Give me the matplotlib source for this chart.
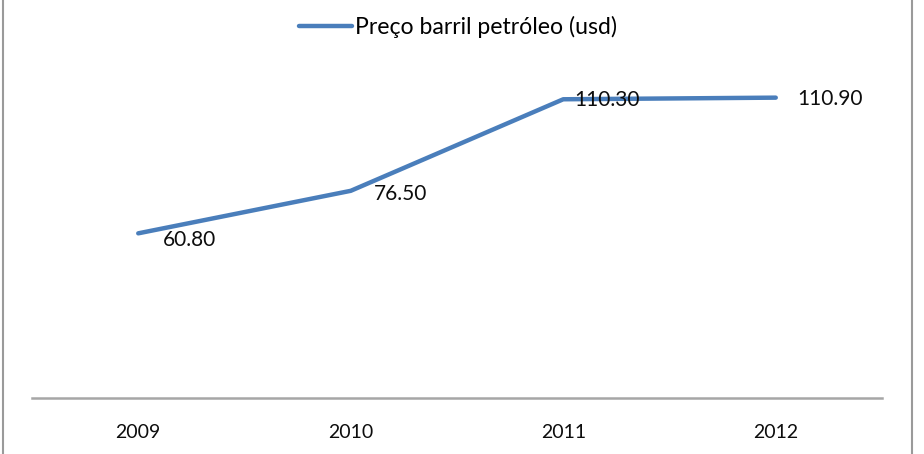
import matplotlib.pyplot as plt
from matplotlib.lines import Line2D

years = ['2009', '2010', '2011', '2012']
prices = [60.80, 76.50, 110.30, 110.90]
series_name = 'Preço barril petróleo (usd)'

plt.rcParams['font.family'] = ['Lato', 'DejaVu Sans']

W, H = 924, 454
fig = plt.figure(figsize=(W / 100, H / 100), dpi=100)

# plot area in pixel coords: x 32..882, y (from top) 73..398
left, right, top, bottom = 32, 882, 73, 398
ax = fig.add_axes([left / W, 1 - bottom / H, (right - left) / W, (bottom - top) / H])

line_color = '#4A7EBB'
x = range(len(years))
ax.plot(x, prices, color=line_color, linewidth=3.2, solid_capstyle='round',
        solid_joinstyle='round', zorder=3)

offsets = [(51, -7), (50, -3), (44, -1), (54, -1)]
for i, (v, off) in enumerate(zip(prices, offsets)):
    ax.annotate(f'{v:.2f}', (i, v), xytext=off, textcoords='offset pixels',
                ha='center', va='center', fontsize=15, color='#0d0d0d', zorder=4)

ax.set_xlim(-0.5, len(years) - 0.5)
ax.set_ylim(0, 120)
ax.set_xticks(list(x))
ax.set_xticklabels(years, fontsize=14, color='#0d0d0d')
ax.tick_params(axis='x', length=0, pad=19)
ax.set_yticks([])
for s in ['top', 'left', 'right']:
    ax.spines[s].set_visible(False)
ax.spines['bottom'].set_color('#a6a6a6')
ax.spines['bottom'].set_linewidth(1.8)

# legend
handle = Line2D([0], [0], color=line_color, linewidth=3.2, solid_capstyle='round')
fig.legend([handle], [series_name], loc='center', bbox_to_anchor=(458 / W, 1 - 27 / H),
           frameon=False, fontsize=16.6, handlelength=2.3, handletextpad=0.1)

# outer border (sides only visible)
fig.add_artist(Line2D([3 / W, 3 / W], [0, 1], transform=fig.transFigure,
                      color='#9a9a9a', linewidth=1.5))
fig.add_artist(Line2D([912 / W, 912 / W], [0, 1], transform=fig.transFigure,
                      color='#9a9a9a', linewidth=1.5))

fig.savefig('out.png', dpi=100)
